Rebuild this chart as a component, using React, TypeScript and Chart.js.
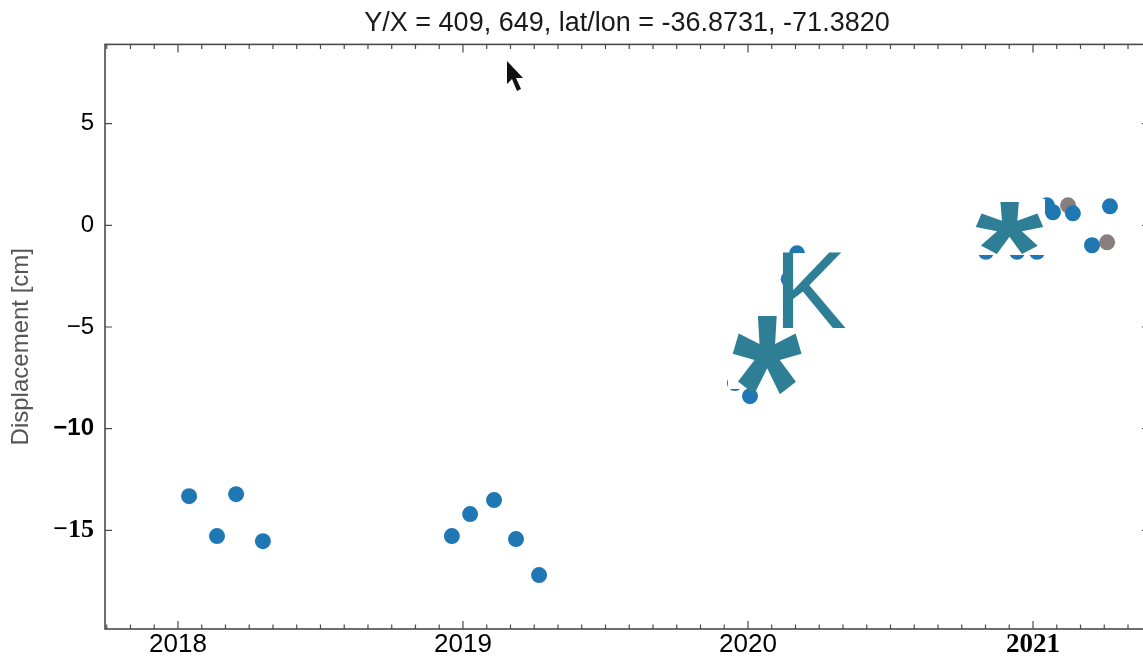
import React, { useEffect, useRef } from "react";
import { Chart, registerables } from "chart.js";

Chart.register(...registerables);

// ---- data (decimal years, displacement in cm) ----
const blueDates = [
  2018.039, 2018.137, 2018.204, 2018.298,
  2018.961, 2019.025, 2019.109, 2019.186, 2019.267,
  2019.954, 2020.007, 2020.053, 2020.143, 2020.172,
  2020.835, 2020.944, 2021.014, 2021.049, 2021.07, 2021.14, 2021.207, 2021.27,
];
const blueValues = [
  -13.32, -15.28, -13.22, -15.53,
  -15.28, -14.2, -13.51, -15.43, -17.2,
  -7.76, -8.4, -4.77, -2.65, -1.38,
  -1.3, -1.3, -1.3, 0.98, 0.64, 0.59, -0.98, 0.93,
];
const grayDates = [2021.123, 2021.26];
const grayValues = [0.98, -0.84];

const yearTicks = [2018, 2019, 2020, 2021];
const valueTicks = [5, 0, -5, -10, -15];

const titleText = "Y/X = 409, 649, lat/lon = -36.8731, -71.3820";
const yTitle = "Displacement [cm]";

const X_MIN = 2017.744;
const X_MAX = 2021.407;
const Y_MIN = -19.85;
const Y_MAX = 8.894;

const TEAL = "#2e7f96";

const framePlugin = {
  id: "frameTicks",
  afterDraw(chart: any) {
    const { ctx, chartArea } = chart;
    const xs = chart.scales.x;
    const ys = chart.scales.y;
    const { left, right, top, bottom } = chartArea;
    ctx.save();
    ctx.strokeStyle = "#4a4a4a";
    ctx.lineWidth = 1.6;
    ctx.strokeRect(left, top, right - left, bottom - top);
    ctx.lineWidth = 1.2;
    ctx.beginPath();
    for (let yr = Math.floor(X_MIN); yr <= Math.ceil(X_MAX); yr++) {
      for (let m = 0; m < 12; m++) {
        const v = yr + m / 12;
        if (v < X_MIN || v > X_MAX) continue;
        const px = xs.getPixelForValue(v);
        const len = m === 0 ? 8 : 4.5;
        ctx.moveTo(px, bottom);
        ctx.lineTo(px, bottom - len);
        ctx.moveTo(px, top);
        ctx.lineTo(px, top + len);
      }
    }
    for (const t of ys.ticks) {
      const py = ys.getPixelForValue(t.value);
      ctx.moveTo(left, py);
      ctx.lineTo(left + 7, py);
      ctx.moveTo(right, py);
      ctx.lineTo(right - 7, py);
    }
    ctx.stroke();
    // y-axis title
    ctx.translate(21, (top + bottom) / 2 + 10);
    ctx.rotate(-Math.PI / 2);
    ctx.fillStyle = "#555";
    ctx.font = "24px 'Liberation Sans'";
    ctx.textAlign = "center";
    ctx.textBaseline = "middle";
    ctx.fillText(yTitle, 0, 0);
    ctx.restore();
  },
};

function ChartView() {
  const ref = useRef<HTMLCanvasElement | null>(null);
  useEffect(() => {
    document.body.style.margin = "0";
    document.body.style.overflow = "hidden";
    const canvas = ref.current;
    if (!canvas) return;
    const chart = new Chart(canvas, {
      type: "scatter",
      data: {
        datasets: [
          {
            label: "blue",
            data: blueDates.map((d, i) => ({ x: d, y: blueValues[i] })),
            backgroundColor: "#1f77b4",
            borderWidth: 0,
            pointRadius: 8,
            pointHoverRadius: 8,
          },
          {
            label: "gray",
            data: grayDates.map((d, i) => ({ x: d, y: grayValues[i] })),
            backgroundColor: "#867e7f",
            borderWidth: 0,
            pointRadius: 8,
            pointHoverRadius: 8,
          },
        ],
      },
      options: {
        responsive: false,
        animation: false,
        devicePixelRatio: 1,
        layout: { padding: { left: 0, right: -3, top: 0, bottom: 0 } },
        plugins: {
          legend: { display: false },
          tooltip: { enabled: false },
          title: {
            display: true,
            text: titleText,
            fullSize: false,
            color: "#1a1a1a",
            font: { family: "Liberation Sans", size: 27, weight: "normal", lineHeight: 1.2 },
            padding: { top: 7, bottom: 5 },
          },
        },
        scales: {
          x: {
            type: "linear",
            min: X_MIN,
            max: X_MAX,
            grid: { display: false, drawTicks: false },
            border: { display: false },
            afterBuildTicks: (s: any) => {
              s.ticks = yearTicks.map((v) => ({ value: v }));
            },
            afterFit: (s: any) => {
              s.height = 28;
            },
            ticks: {
              padding: 0,
              color: "#000",
              maxRotation: 0,
              autoSkip: false,
              callback: (v: any) => String(v),
              font: (c: any) =>
                c.tick && c.tick.value === 2021
                  ? { family: "Liberation Serif", size: 27, weight: "bold" }
                  : { family: "Liberation Sans", size: 26, weight: "normal" },
            },
          },
          y: {
            type: "linear",
            min: Y_MIN,
            max: Y_MAX,
            grid: { display: false, drawTicks: false },
            border: { display: false },
            afterBuildTicks: (s: any) => {
              s.ticks = valueTicks.map((v) => ({ value: v }));
            },
            afterFit: (s: any) => {
              s.width = 105;
            },
            title: { display: false },
            ticks: {
              padding: 11,
              color: "#000",
              autoSkip: false,
              callback: (v: any) => (v < 0 ? "\u2212" + Math.abs(v) : String(v)),
              font: (c: any) => {
                const v = c.tick ? c.tick.value : 0;
                if (v === -15) return { family: "Liberation Serif", size: 26, weight: "bold" };
                if (v === -10) return { family: "Liberation Sans", size: 24, weight: "bold" };
                return { family: "Liberation Sans", size: 24, weight: "normal" };
              },
            },
          },
        },
      },
      plugins: [framePlugin],
    });
    return () => chart.destroy();
  }, []);
  return <canvas ref={ref} width={1157} height={657} style={{ display: "block" }} />;
}

const glyphBase: React.CSSProperties = {
  position: "absolute",
  color: TEAL,
  lineHeight: 1,
  fontFamily: "Liberation Sans",
  whiteSpace: "nowrap",
};

export default function App() {
  return (
    <div style={{ position: "relative", width: 1143, height: 657, overflow: "hidden", background: "#fff" }}>
      <ChartView />
      {/* white patches behind overlay glyphs */}
      <div style={{ position: "absolute", left: 728, top: 312, width: 72, height: 77, background: "#fff" }} />
      <div style={{ position: "absolute", left: 787, top: 253, width: 63, height: 80, background: "#fff" }} />
      <div style={{ position: "absolute", left: 976, top: 199, width: 69, height: 56, background: "#fff" }} />
      <div style={{ ...glyphBase, left: 726, top: 283, fontSize: 210, fontWeight: "bold", transform: "scaleX(0.85)" }}>*</div>
      <div style={{ ...glyphBase, left: 774, top: 236, fontSize: 109 }}>K</div>
      <div style={{ ...glyphBase, left: 982, top: 180, fontSize: 140, fontWeight: "bold", transform: "scaleX(1.25)" }}>*</div>
      <svg style={{ position: "absolute", left: 500, top: 58 }} width={30} height={40}>
        <polygon points="7,3 7,26 12,21 17,33 21,31 16,20 23,20" fill="#111" />
      </svg>
    </div>
  );
}
